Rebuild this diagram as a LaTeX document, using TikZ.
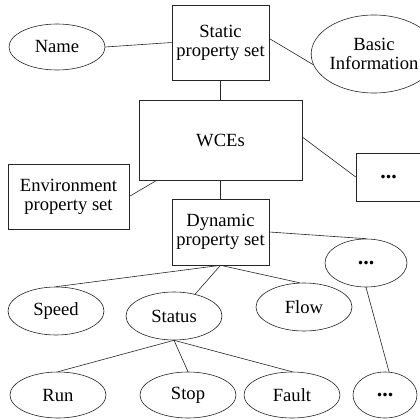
\documentclass[tikz,border=0pt]{standalone}
\usepackage{fontspec}
\setmainfont{Liberation Serif}
\usetikzlibrary{shapes.geometric,calc}
\newcommand{\moredots}{{\fontsize{22}{22}\selectfont\textbf{...}}}
\begin{document}
\begin{tikzpicture}[x=1pt,y=-1pt,
  every node/.style={font=\fontsize{18.6}{19}\selectfont, align=center, inner sep=0pt, text=black},
  box/.style={draw=black!85, line width=0.6pt, rectangle},
  oval/.style={draw=black!85, line width=0.6pt, ellipse},
  link/.style={draw=black!85, line width=0.6pt}]
\clip (0,0) rectangle (420,420);
\fill[white] (0,0) rectangle (420,420);
% property-set boxes
\node[box, minimum width=97pt, minimum height=75pt] (static) at (220.5,42.5) {Static\\property set};
\node[box, minimum width=163pt, minimum height=80pt] (wces) at (220.5,140) {WCEs};
\node[box, minimum width=121pt, minimum height=65pt] (env) at (68.5,196.5) {Environment\\property set};
\node[box, minimum width=97pt, minimum height=66pt] (dyn) at (220.5,232) {Dynamic\\property set};
\node[box, minimum width=65pt, minimum height=48pt] (more) at (388.5,177) {\moredots};
% attribute ovals
\node[oval, minimum width=96pt, minimum height=46pt] (name) at (57,47) {Name};
\node[oval, minimum width=100pt, minimum height=78pt] (basic) at (374,54) {Basic\\Information};
\node[oval, minimum width=82pt, minimum height=48pt] (dmore) at (366,263) {\moredots};
\node[oval, minimum width=96pt, minimum height=48pt] (speed) at (56,311) {Speed};
\node[oval, minimum width=96pt, minimum height=48pt] (status) at (174,316) {Status};
\node[oval, minimum width=96pt, minimum height=48pt] (flow) at (304,307) {Flow};
\node[oval, minimum width=96pt, minimum height=46pt] (run) at (58,395) {Run};
\node[oval, minimum width=96pt, minimum height=46pt] (stop) at (188,395) {Stop};
\node[oval, minimum width=96pt, minimum height=46pt] (fault) at (292,395) {Fault};
\node[oval, minimum width=64pt, minimum height=46pt] (smore) at (385,395) {\moredots};
% connectors
\draw[link] (name.east) -- (static.west);
\draw[link] ($(static.east)+(0,-4)$) -- (basic.190);
\draw[link] (static.south) -- (wces.north);
\draw[link] ($(wces.south west)+(18,0)$) -- (env.east);
\draw[link] ($(wces.east)+(0,-3)$) -- (more.west);
\draw[link] (wces.south) -- (dyn.north);
\draw[link] (dyn.east) -- (dmore.north);
\draw[link] (dmore.south) -- (smore.80);
\draw[link] (dyn.south) -- (speed.north);
\draw[link] (dyn.south) -- (status.46);
\draw[link] (dyn.south) -- (flow.100);
\draw[link] (status.south) -- (run.north);
\draw[link] (status.south) -- (stop.north);
\draw[link] (status.south) -- (fault.north);
\end{tikzpicture}
\end{document}
